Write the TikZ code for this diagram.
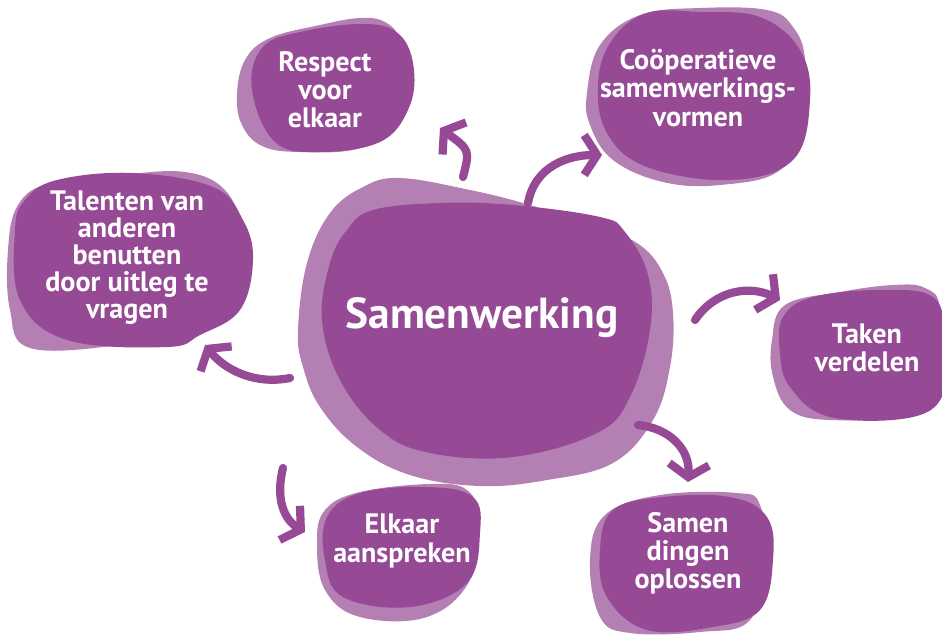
\documentclass[tikz,border=0pt]{standalone}
\usepackage{fontspec}
\setmainfont{PT Sans}
\usetikzlibrary{arrows.meta}
\definecolor{blobDark}{RGB}{150,74,150}
\definecolor{blobLight}{RGB}{180,128,180}

\begin{document}
\begin{tikzpicture}[x=0.03cm,y=-0.03cm,
  back/.style={fill=blobLight},
  front/.style={fill=blobDark},
  label/.style={text=white,align=center,font=\bfseries\fontsize{24}{24}\selectfont},
  curvearrow/.style={draw=blobDark,line width=7pt,line cap=round,-{Straight Barb[length=11pt,width=34pt]}}]
% Parameters
\def\tens{0.65};

\useasboundingbox (0,0) rectangle (942,635);

% Blobs
\fill[back] plot[smooth cycle,tension=\tens] coordinates {(298,330) (307,263) (330,213) (363,187) (400,178) (470,190) (530,205) (590,225) (637,243) (663,273) (673,313) (670,367) (653,420) (613,463) (547,480) (480,486) (410,475) (357,447) (320,407) (303,367)}; % centre
\fill[front] plot[smooth cycle,tension=\tens] coordinates {(322,320) (330,263) (347,230) (373,210) (440,203) (513,205) (600,217) (625,232) (648,275) (650,330) (630,397) (597,433) (513,457) (430,453) (380,430) (340,380)};

\fill[back] plot[smooth cycle,tension=\tens] coordinates {(237,95) (245,60) (270,38) (320,25) (360,18) (385,22) (400,40) (405,80) (395,120) (360,148) (300,152) (262,146) (242,125)}; % respect
\fill[front] plot[smooth cycle,tension=\tens] coordinates {(252,90) (262,48) (300,32) (365,24) (400,35) (414,70) (408,110) (380,142) (320,152) (275,142)};

\fill[back] plot[smooth cycle,tension=\tens] coordinates {(587,93) (600,45) (640,15) (700,8) (767,10) (793,27) (805,60) (800,120) (780,170) (720,185) (663,182) (613,160) (590,125)}; % cooperatieve
\fill[front] plot[smooth cycle,tension=\tens] coordinates {(598,83) (612,40) (647,13) (700,12) (760,17) (800,50) (810,100) (793,160) (730,180) (647,167) (607,133)};

\fill[back] plot[smooth cycle,tension=\tens] coordinates {(8,250) (18,205) (50,183) (120,175) (185,172) (225,190) (240,230) (235,290) (190,330) (120,345) (30,348) (10,310)}; % talenten
\fill[front] plot[smooth cycle,tension=\tens] coordinates {(15,230) (25,200) (57,180) (133,173) (213,187) (243,220) (253,260) (240,310) (200,335) (167,347) (67,340) (20,300)};

\fill[back] plot[smooth cycle,tension=\tens] coordinates {(772,340) (785,305) (840,292) (893,285) (925,288) (940,310) (935,390) (900,415) (830,420) (790,410) (773,377)}; % taken
\fill[front] plot[smooth cycle,tension=\tens] coordinates {(783,317) (813,297) (880,290) (933,297) (945,337) (945,390) (913,417) (830,417) (790,387) (780,353)};

\fill[back] plot[smooth cycle,tension=\tens] coordinates {(317,543) (325,510) (360,492) (430,484) (467,490) (478,520) (470,580) (427,617) (360,617) (325,590)}; % elkaar
\fill[front] plot[smooth cycle,tension=\tens] coordinates {(327,517) (360,493) (427,487) (473,497) (480,533) (467,583) (410,607) (343,597) (325,560)};

\fill[back] plot[smooth cycle,tension=\tens] coordinates {(590,560) (605,515) (660,495) (737,493) (760,505) (765,560) (750,620) (700,632) (630,633) (600,617)}; % samen dingen
\fill[front] plot[smooth cycle,tension=\tens] coordinates {(600,550) (613,510) (663,497) (730,497) (767,517) (773,560) (760,610) (713,627) (647,630) (607,597)};

% Texts
\node[label,font=\bfseries\fontsize{37}{40}\selectfont] (samen) at (482,318) {Samenwerking};
\node[label] (respect) at (325,90) {Respect\\voor\\elkaar};
\node[label] (coop) at (698,88) {Coöperatieve\\samenwerkings-\\vormen};
\node[label,font=\bfseries\fontsize{24}{23}\selectfont] (talent) at (127,258) {Talenten van\\anderen\\benutten\\door uitleg te\\vragen};
\node[label] (taken) at (867,348) {Taken\\verdelen};
\node[label] (elkaar) at (402,541) {Elkaar\\aanspreken};
\node[label] (dingen) at (688,553) {Samen\\dingen\\oplossen};

% Arrows
\coordinate (respectTail) at (463,177);
\coordinate (respectTip) at (440,128);
\coordinate (coopTail) at (528,203);
\coordinate (coopTip) at (602,155);
\coordinate (takenTail) at (695,320);
\coordinate (takenTip) at (780,300);
\coordinate (dingenTail) at (638,425);
\coordinate (dingenTip) at (688,482);
\coordinate (elkaarTail) at (283,468);
\coordinate (elkaarTip) at (305,532);
\coordinate (talentTail) at (290,378);
\coordinate (talentTip) at (205,345);
\draw[curvearrow] (respectTail) .. controls (470,150) .. (respectTip); % respect
\draw[curvearrow] (coopTail) .. controls (535,165) and (570,155) .. (coopTip); % cooperatieve
\draw[curvearrow] (takenTail) .. controls (715,290) and (750,285) .. (takenTip); % taken
\draw[curvearrow] (dingenTail) .. controls (670,428) and (690,450) .. (dingenTip); % samen dingen
\draw[curvearrow] (elkaarTail) .. controls (275,500) and (285,520) .. (elkaarTip); % elkaar
\draw[curvearrow] (talentTail) .. controls (255,385) and (225,370) .. (talentTip); % talenten

\end{tikzpicture}
\end{document}
